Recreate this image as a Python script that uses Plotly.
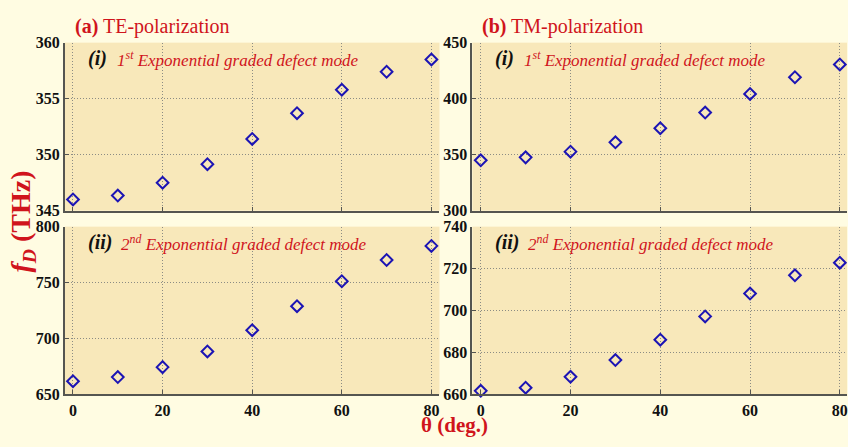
import plotly.graph_objects as go

theta = [0, 10, 20, 30, 40, 50, 60, 70, 80]
te_mode1 = [346.0, 346.35, 347.5, 349.15, 351.4, 353.7, 355.8, 357.4, 358.5]
tm_mode1 = [345.0, 347.6, 352.7, 361.0, 373.6, 387.6, 404.2, 419.1, 430.5]
te_mode2 = [661.8, 665.5, 674.4, 688.4, 707.4, 728.9, 751.2, 770.2, 782.8]
tm_mode2 = [661.7, 663.2, 668.4, 676.4, 686.1, 697.2, 708.1, 716.8, 722.8]

x_ticks = [0, 20, 40, 60, 80]
te1_ticks = [345, 350, 355, 360]
tm1_ticks = [300, 350, 400, 450]
te2_ticks = [650, 700, 750, 800]
tm2_ticks = [660, 680, 700, 720, 740]

W, H = 848, 447
SERIF = "Liberation Serif, Times New Roman, serif"
RED = "#d0141c"
BLUE = "#1c14b4"
PLOTBG = "#f8e8ba"
PAPERBG = "#fffce2"

fig = go.Figure()

panels = [
    ("x", "y", te_mode1),
    ("x2", "y2", tm_mode1),
    ("x3", "y3", te_mode2),
    ("x4", "y4", tm_mode2),
]
for xa, ya, vals in panels:
    fig.add_trace(go.Scatter(
        x=theta, y=vals, xaxis=xa, yaxis=ya, mode="markers",
        marker=dict(symbol="diamond-open", size=9, color=BLUE,
                    line=dict(width=2, color=BLUE)),
        showlegend=False, cliponaxis=False))

def px_x(p):
    return p / W

def px_y(p):
    return 1 - p / H

left_dom = [px_x(65), px_x(440)]
right_dom = [px_x(473), 1.0]
top_dom = [px_y(210.7), px_y(36)]
bot_dom = [px_y(401.7), px_y(227.3)]

axis_common = dict(
    showgrid=True, gridcolor="#8c8c84", griddash="1px,2px", gridwidth=1,
    showline=True, linecolor="#555550", linewidth=2,
    ticks="inside", ticklen=4, tickcolor="#555550",
    tickfont=dict(family=SERIF, size=16, color="#111111"),
    zeroline=False, ticklabeloverflow="allow",
)

def xaxis(dom, anchor, rng, showlabels):
    d = dict(axis_common)
    d.update(domain=dom, anchor=anchor, range=rng, tickvals=x_ticks,
             ticktext=[f"<b>{v}</b>" for v in x_ticks],
             showticklabels=showlabels, mirror=False)
    return d

def yaxis(dom, anchor, rng, ticks):
    d = dict(axis_common)
    d.update(domain=dom, anchor=anchor, range=rng, tickvals=ticks,
             ticktext=[f"<b>{v}</b>" for v in ticks])
    return d

fig.update_layout(
    width=W, height=H,
    margin=dict(l=0, r=0, t=0, b=0),
    paper_bgcolor=PAPERBG,
    plot_bgcolor=PLOTBG,
    xaxis=xaxis(left_dom, "y", [-1.8, 81.8], False),
    yaxis=yaxis(top_dom, "x", [345, 360], te1_ticks),
    xaxis2=xaxis(right_dom, "y2", [-1.85, 81.6], False),
    yaxis2=yaxis(top_dom, "x2", [300, 450], tm1_ticks),
    xaxis3=xaxis(left_dom, "y3", [-1.8, 81.8], True),
    yaxis3=yaxis(bot_dom, "x3", [650, 800], te2_ticks),
    xaxis4=xaxis(right_dom, "y4", [-1.85, 81.6], True),
    yaxis4=yaxis(bot_dom, "x4", [660, 740], tm2_ticks),
)

ann = []

def add_text(x, y, text, size, color, xanchor="left", yanchor="middle", angle=0):
    ann.append(dict(x=x, y=y, xref="paper", yref="paper", text=text,
                    showarrow=False, xanchor=xanchor, yanchor=yanchor,
                    textangle=angle, borderpad=0,
                    font=dict(family=SERIF, size=size, color=color)))

# panel titles
add_text(px_x(74), px_y(19), "<b>(a)</b> TE-polarization", 20, RED)
add_text(px_x(482), px_y(19), "<b>(b)</b> TM-polarization", 20, RED)

# inner labels
def mode_label(xp, yp, roman, sup, word):
    add_text(px_x(xp), px_y(yp),
             f"<b><i>({roman})</i></b>", 20, "#111111")
    add_text(px_x(xp + (29 if roman == "i" else 33)), px_y(yp),
             f"<i>{word[0]}<sup>{sup}</sup> Exponential graded defect mode</i>",
             17, RED)

mode_label(87, 53, "i", "st", "1")
mode_label(495, 53, "i", "st", "1")
mode_label(87, 244, "ii", "nd", "2")
mode_label(495, 244, "ii", "nd", "2")

# axis titles
add_text(px_x(23), px_y(222), "<b><i>f<sub>D</sub></i> (THz)</b>", 28, RED,
         xanchor="center", yanchor="middle", angle=-90)
add_text(px_x(455), 0, "<b>θ (deg.)</b>", 21, RED,
         xanchor="center", yanchor="bottom")

fig.update_layout(annotations=ann)

fig.write_html("out.html")
